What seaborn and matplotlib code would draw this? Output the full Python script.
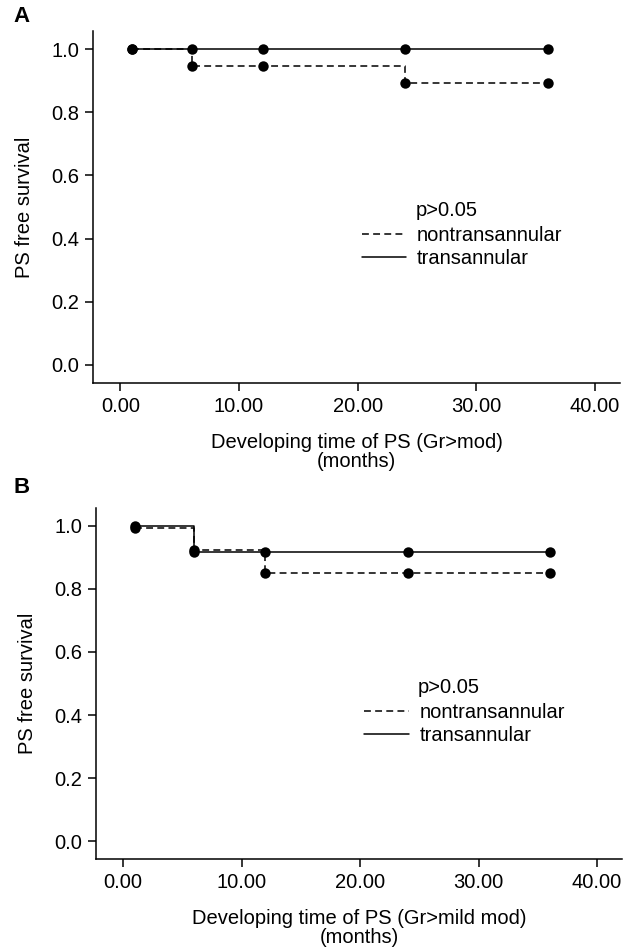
import matplotlib
matplotlib.use("Agg")
import matplotlib.pyplot as plt
from matplotlib.lines import Line2D
import pandas as pd
import seaborn as sns

months = [1, 6, 12, 24, 36]

# panel A: Gr>mod
a_nontrans = [1.0, 0.945, 0.945, 0.893, 0.893]
a_trans = [1.0, 1.0, 1.0, 1.0, 1.0]

# panel B: Gr>mild mod
b_nontrans = [0.993, 0.923, 0.852, 0.852, 0.852]
b_trans = [1.0, 0.917, 0.917, 0.917, 0.917]

groups = ["nontransannular", "transannular"]
xticks = [0, 10, 20, 30, 40]
yticks = [0.0, 0.2, 0.4, 0.6, 0.8, 1.0]

sns.set_style("ticks")
plt.rcParams["font.family"] = ["Liberation Sans", "DejaVu Sans"]
plt.rcParams.update({
    "axes.linewidth": 1.1,
    "axes.edgecolor": "black",
    "axes.labelcolor": "black",
    "text.color": "black",
    "xtick.color": "black",
    "ytick.color": "black",
})

FS = 14.5
LW = 1.1
DASH = (4.5, 2.8)


def make_df(nontrans, trans):
    rows = []
    for g, vals in zip(groups, [nontrans, trans]):
        for m, v in zip(months, vals):
            rows.append({"month": m, "survival": v, "group": g})
    return pd.DataFrame(rows)


def draw_panel(ax, nontrans, trans, xlabel):
    df = make_df(nontrans, trans)
    sns.lineplot(
        data=df, x="month", y="survival", style="group",
        style_order=groups,
        dashes={"nontransannular": DASH, "transannular": ""},
        markers={"nontransannular": "o", "transannular": "o"},
        color="black", lw=LW, markersize=7.5, markeredgewidth=0,
        drawstyle="steps-post", estimator=None, legend=False, ax=ax,
    )
    ax.set_xlim(-2.3, 42.1)
    ax.set_ylim(-0.057, 1.057)
    ax.set_xticks(xticks)
    ax.set_xticklabels([f"{t:.2f}" for t in xticks], fontsize=FS)
    ax.set_yticks(yticks)
    ax.set_yticklabels([f"{t:.1f}" for t in yticks], fontsize=FS)
    ax.tick_params(length=6, width=1.1, pad=4, colors="black")
    ax.set_xlabel(xlabel, fontsize=FS, labelpad=12, linespacing=1.0)
    ax.set_ylabel("PS free survival", fontsize=FS, labelpad=12)
    sns.despine(ax=ax)

    handles = [
        Line2D([], [], color="black", lw=LW, dashes=DASH),
        Line2D([], [], color="black", lw=LW),
    ]
    ax.legend(handles, groups, loc="upper left", bbox_to_anchor=(0.51, 0.445),
              frameon=False, fontsize=FS, handlelength=2.2, handletextpad=0.55,
              labelspacing=0.2, borderpad=0, borderaxespad=0)
    ax.text(0.612, 0.49, "p>0.05", transform=ax.transAxes, va="center",
            fontsize=FS)


fig = plt.figure(figsize=(6.33, 9.52), dpi=100)
axA = fig.add_axes([93 / 633, 1 - 383 / 952, 527 / 633, 352 / 952])
axB = fig.add_axes([96 / 633, 1 - 859 / 952, 526 / 633, 351 / 952])

draw_panel(axA, a_nontrans, a_trans, "Developing time of PS (Gr>mod)\n(months)")
draw_panel(axB, b_nontrans, b_trans, "Developing time of PS (Gr>mild mod)\n(months)")

fig.text(22 / 633, 1 - 17 / 952, "A", fontsize=16, fontweight="bold",
         ha="center", va="center")
fig.text(22 / 633, 1 - 488 / 952, "B", fontsize=16, fontweight="bold",
         ha="center", va="center")

fig.savefig("out.png", dpi=100)
